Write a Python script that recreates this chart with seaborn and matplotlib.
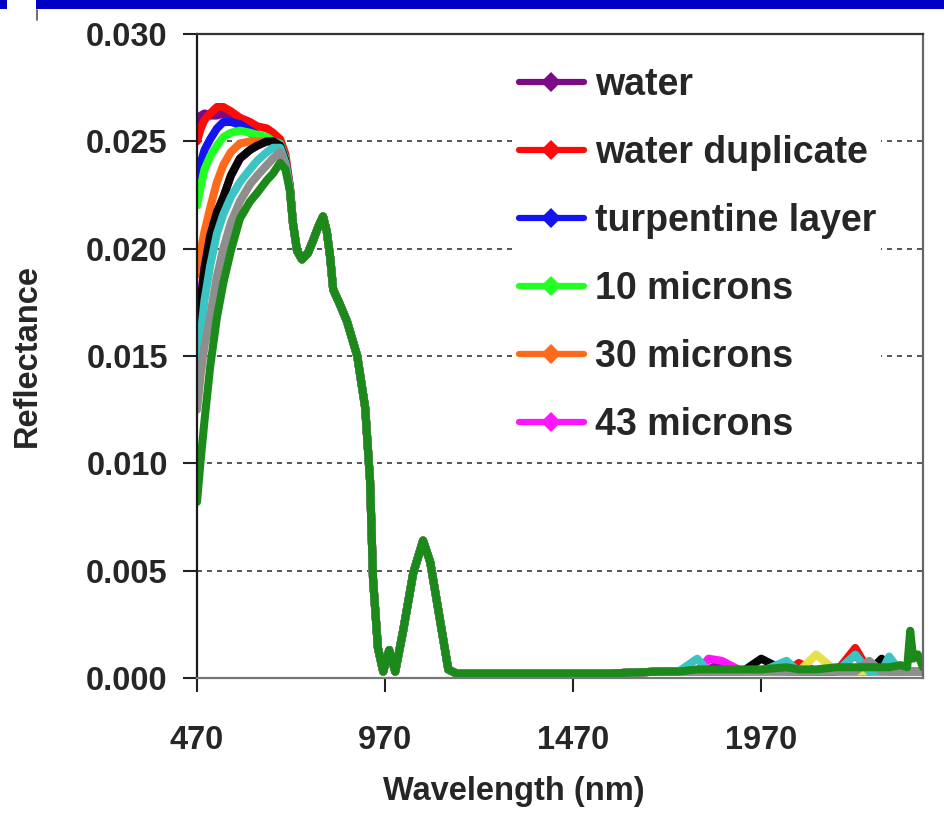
import matplotlib
matplotlib.use("Agg")
import matplotlib.pyplot as plt
from matplotlib.lines import Line2D
from matplotlib.patches import Rectangle
import pandas as pd
import seaborn as sns

# ---- spectra (reflectance vs wavelength, nm) ----
# visible range: each spectrum has its own shape here
wl_head = [470, 480, 490, 505, 523, 540, 560, 584, 611, 630, 656, 672, 691, 705, 717]
# red edge / NIR: all spectra coincide
wl_body = [725, 736, 749, 765, 779, 792, 805, 815, 824, 832, 850, 869, 896, 917,
           930, 938, 951, 965, 981, 997, 1018, 1045, 1071, 1090, 1116, 1138, 1161,
           1250, 1400, 1550, 1700]
body_shared = [0.0212, 0.0199, 0.0195, 0.0198, 0.0204, 0.0210, 0.0215, 0.0208, 0.0196,
               0.0181, 0.0174, 0.0166, 0.0150, 0.0126, 0.0092, 0.0046, 0.0014, 0.0003,
               0.0013, 0.0003, 0.0022, 0.0049, 0.0064, 0.0054, 0.0027, 0.0004, 0.0002,
               0.0002, 0.0002, 0.0002, 0.0003]
# SWIR: noisy near-zero tail
wl_far = [1750, 1800, 1830, 1865, 1920, 1970, 2037, 2070, 2116, 2170,
          2220, 2257, 2290, 2310, 2340, 2358, 2366, 2374, 2386, 2400]

water_head = [0.0258, 0.0262, 0.0263, 0.0262, 0.0262, 0.0263, 0.0260, 0.0257, 0.0254,
              0.0252, 0.0250, 0.0250, 0.0249, 0.0242, 0.0228]
water_far = [0.0003, 0.0003, 0.0004, 0.0007, 0.0003, 0.0003, 0.0003, 0.0003, 0.0003, 0.0003,
             0.0003, 0.0003, 0.0003, 0.0003, 0.0003, 0.0003, 0.0003, 0.0003, 0.0003, 0.0003]

water_dup_head = [0.0250, 0.0256, 0.0260, 0.0263, 0.0266, 0.0266, 0.0264, 0.0261, 0.0259,
                  0.0257, 0.0256, 0.0254, 0.0251, 0.0244, 0.0229]
water_dup_far = [0.0003, 0.0003, 0.0003, 0.0003, 0.0003, 0.0003, 0.0003, 0.0007, 0.0003, 0.0003,
                 0.0014, 0.0003, 0.0003, 0.0003, 0.0003, 0.0003, 0.0003, 0.0003, 0.0003, 0.0003]

turp_head = [0.0233, 0.0240, 0.0246, 0.0251, 0.0256, 0.0259, 0.0259, 0.0258, 0.0255,
             0.0253, 0.0251, 0.0250, 0.0249, 0.0242, 0.0228]
turp_far = [0.0003, 0.0003, 0.0003, 0.0003, 0.0003, 0.0003, 0.0003, 0.0003, 0.0003, 0.0003,
            0.0003, 0.0003, 0.0003, 0.0008, 0.0003, 0.0003, 0.0003, 0.0003, 0.0003, 0.0003]

m10_head = [0.0220, 0.0229, 0.0237, 0.0243, 0.0248, 0.0252, 0.0254, 0.0255, 0.0254,
            0.0253, 0.0252, 0.0250, 0.0249, 0.0242, 0.0228]
m10_far = [0.0003, 0.0003, 0.0003, 0.0003, 0.0003, 0.0003, 0.0003, 0.0003, 0.0003, 0.0003,
           0.0003, 0.0003, 0.0003, 0.0003, 0.0003, 0.0003, 0.0003, 0.0003, 0.0003, 0.0003]

m30_head = [0.0188, 0.0199, 0.0208, 0.0219, 0.0231, 0.0239, 0.0245, 0.0249, 0.0250,
            0.0250, 0.0250, 0.0250, 0.0248, 0.0241, 0.0228]
m30_far = [0.0003, 0.0003, 0.0003, 0.0003, 0.0003, 0.0003, 0.0003, 0.0003, 0.0003, 0.0003,
           0.0003, 0.0003, 0.0003, 0.0003, 0.0003, 0.0003, 0.0003, 0.0003, 0.0003, 0.0003]

m43_head = [0.0162, 0.0178, 0.0192, 0.0206, 0.0217, 0.0224, 0.0234, 0.0242, 0.0246,
            0.0248, 0.0250, 0.0250, 0.0248, 0.0241, 0.0228]
m43_far = [0.0003, 0.0003, 0.0009, 0.0008, 0.0003, 0.0003, 0.0003, 0.0003, 0.0003, 0.0003,
           0.0003, 0.0003, 0.0003, 0.0003, 0.0003, 0.0003, 0.0003, 0.0003, 0.0003, 0.0003]

s7_head = [0.0158, 0.0176, 0.0191, 0.0206, 0.0217, 0.0224, 0.0234, 0.0242, 0.0246,
           0.0248, 0.0250, 0.0250, 0.0248, 0.0241, 0.0228]
s7_far = [0.0003, 0.0003, 0.0003, 0.0003, 0.0003, 0.0009, 0.0003, 0.0003, 0.0003, 0.0003,
          0.0011, 0.0003, 0.0009, 0.0003, 0.0003, 0.0003, 0.0003, 0.0003, 0.0003, 0.0003]

s8_head = [0.0125, 0.0142, 0.0155, 0.0168, 0.0187, 0.0200, 0.0212, 0.0222, 0.0230,
           0.0234, 0.0239, 0.0242, 0.0245, 0.0239, 0.0227]
s8_far = [0.0003, 0.0003, 0.0003, 0.0003, 0.0003, 0.0003, 0.0003, 0.0003, 0.0011, 0.0003,
          0.0003, 0.0003, 0.0003, 0.0003, 0.0003, 0.0003, 0.0003, 0.0003, 0.0003, 0.0003]

s9_head = [0.0141, 0.0160, 0.0176, 0.0192, 0.0207, 0.0216, 0.0224, 0.0231, 0.0237,
           0.0241, 0.0245, 0.0247, 0.0247, 0.0240, 0.0228]
s9_far = [0.0003, 0.0009, 0.0003, 0.0003, 0.0003, 0.0003, 0.0008, 0.0003, 0.0003, 0.0003,
          0.0011, 0.0003, 0.0003, 0.0010, 0.0003, 0.0003, 0.0003, 0.0003, 0.0003, 0.0003]

s10_head = [0.0125, 0.0142, 0.0155, 0.0168, 0.0187, 0.0200, 0.0212, 0.0222, 0.0230,
            0.0234, 0.0239, 0.0242, 0.0245, 0.0239, 0.0227]
s10_far = [0.0003, 0.0003, 0.0003, 0.0003, 0.0003, 0.0003, 0.0003, 0.0003, 0.0003, 0.0003,
           0.0003, 0.0008, 0.0003, 0.0003, 0.0003, 0.0003, 0.0003, 0.0003, 0.0003, 0.0003]

s11_head = [0.0082, 0.0102, 0.0120, 0.0145, 0.0168, 0.0184, 0.0199, 0.0214, 0.0222,
            0.0226, 0.0232, 0.0235, 0.0240, 0.0237, 0.0227]
s11_far = [0.0003, 0.0004, 0.0004, 0.0004, 0.0004, 0.0004, 0.0005, 0.0004, 0.0004, 0.0005,
           0.0005, 0.0005, 0.0005, 0.0005, 0.0006, 0.0005, 0.0022, 0.0009, 0.0011, 0.0005]

series_names = ["water", "water duplicate", "turpentine layer", "10 microns",
                "30 microns", "43 microns", "sample 7", "sample 8", "sample 9",
                "sample 10", "sample 11"]
series_head = [water_head, water_dup_head, turp_head, m10_head, m30_head, m43_head,
               s7_head, s8_head, s9_head, s10_head, s11_head]
series_far = [water_far, water_dup_far, turp_far, m10_far, m30_far, m43_far,
              s7_far, s8_far, s9_far, s10_far, s11_far]
series_colors = ["#7a0a86", "#ff0a0a", "#1414f0", "#22ff22", "#ff6a1a", "#ff14ff",
                 "#050505", "#e8e04a", "#3cc4c4", "#8e8e8e", "#1b8a1b"]
legend_count = 6

x_ticks = [470, 970, 1470, 1970]
y_ticks = [0.000, 0.005, 0.010, 0.015, 0.020, 0.025, 0.030]

# ---- long-form table ----
rows = []
for name, head, far in zip(series_names, series_head, series_far):
    wls = wl_head + wl_body + wl_far
    vals = head + body_shared + far
    for w, v in zip(wls, vals):
        rows.append((name, w, v))
df = pd.DataFrame(rows, columns=["series", "wavelength", "reflectance"])

sns.set_style("white")
plt.rcParams["font.family"] = ["Liberation Sans", "DejaVu Sans"]
plt.rcParams["font.weight"] = "bold"
plt.rcParams["lines.solid_joinstyle"] = "round"
plt.rcParams["lines.solid_capstyle"] = "round"

fig = plt.figure(figsize=(9.45, 8.19), dpi=100)
ax = fig.add_axes([197 / 945, 1 - 678 / 819, (923 - 197) / 945, (678 - 34) / 819])

sns.lineplot(data=df, x="wavelength", y="reflectance", hue="series",
             hue_order=series_names, palette=dict(zip(series_names, series_colors)),
             estimator=None, sort=False, linewidth=5.8, legend=False, ax=ax)

ax.set_xlim(470, 2400)
ax.set_ylim(0, 0.030)
ax.set_xticks(x_ticks)
ax.set_xticklabels([str(t) for t in x_ticks])
ax.set_yticks(y_ticks)
ax.set_yticklabels([f"{t:.3f}" for t in y_ticks])

ax.set_axisbelow(True)
ax.yaxis.grid(True, linestyle=(0, (3, 3)), color="#3a3a3a", linewidth=1.2)
ax.xaxis.grid(False)

for side, col in [("left", "#1a1a1a"), ("top", "#333333"), ("right", "#666666"), ("bottom", "#777777")]:
    ax.spines[side].set_visible(True)
    ax.spines[side].set_color(col)
    ax.spines[side].set_linewidth(1.6)

ax.tick_params(axis="y", direction="out", length=10, width=1.5, pad=11,
               labelsize=23.5, left=True, color="#222222")
ax.tick_params(axis="x", direction="out", length=10, width=1.5, pad=24,
               labelsize=23.5, bottom=True, color="#222222")
for lab in ax.get_xticklabels() + ax.get_yticklabels():
    lab.set_fontweight("bold")

ax.set_xlabel("Wavelength (nm)", fontsize=23.5, fontweight="bold")
ax.set_ylabel("Reflectance", fontsize=23.5, fontweight="bold")
ax.xaxis.set_label_coords(0.437, -0.152)
ax.yaxis.set_label_coords(-0.212, 0.5)

handles = [Line2D([], [], color=c, linewidth=4.5, marker="D", markersize=10,
                  markeredgewidth=0)
           for c in series_colors[:legend_count]]
leg = ax.legend(handles, series_names[:legend_count], loc="upper left",
                bbox_to_anchor=(0.412, 0.983), frameon=True, facecolor="white",
                edgecolor="none", framealpha=1.0, fancybox=False,
                prop={"size": 27, "weight": "bold"}, handlelength=1.75,
                handletextpad=0.3, labelspacing=0.85, borderpad=0.1)

# slide header band
fig.add_artist(Rectangle((36 / 945, 1 - 9 / 819), 1 - 36 / 945, 9 / 819,
                         transform=fig.transFigure, color="#0000c4", lw=0))
fig.add_artist(Rectangle((0, 1 - 9 / 819), 7 / 945, 9 / 819,
                         transform=fig.transFigure, color="#0000c4", lw=0))
fig.add_artist(Line2D([37 / 945, 37 / 945], [1 - 10 / 819, 1 - 20 / 819],
                      transform=fig.transFigure, color="#555555", lw=1.2))

fig.savefig("out.png", dpi=100, facecolor="white")
